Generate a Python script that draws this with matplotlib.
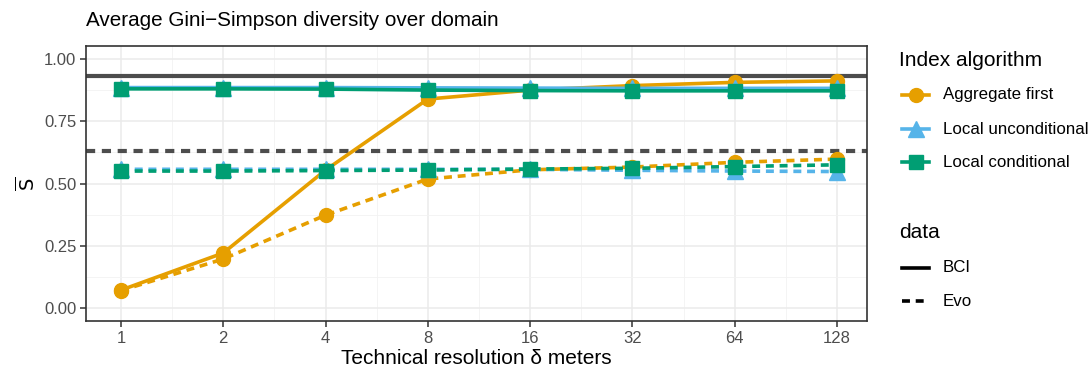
import numpy as np
import matplotlib
matplotlib.use("Agg")
import matplotlib.pyplot as plt
from matplotlib.lines import Line2D
from matplotlib.ticker import FixedLocator, NullFormatter

plt.rcParams['font.family'] = ['Liberation Sans', 'DejaVu Sans']

# technical resolution (meters)
resolution = [1, 2, 4, 8, 16, 32, 64, 128]

# BCI data
bci_aggregate = [0.072, 0.221, 0.554, 0.839, 0.875, 0.893, 0.906, 0.912]
bci_unconditional = [0.885, 0.885, 0.885, 0.884, 0.883, 0.882, 0.882, 0.882]
bci_conditional = [0.880, 0.880, 0.879, 0.875, 0.873, 0.872, 0.872, 0.872]
bci_reference = 0.930

# Evo data
evo_aggregate = [0.070, 0.197, 0.373, 0.518, 0.555, 0.566, 0.585, 0.598]
evo_unconditional = [0.557, 0.557, 0.557, 0.557, 0.557, 0.553, 0.550, 0.548]
evo_conditional = [0.550, 0.550, 0.552, 0.554, 0.558, 0.561, 0.568, 0.575]
evo_reference = 0.630

algorithms = ["Aggregate first", "Local unconditional", "Local conditional"]
datasets = ["BCI", "Evo"]
colors = ["#E69F00", "#56B4E9", "#009E73"]
markers = ["o", "^", "s"]
msizes = [10, 11, 10]
dashed = (0, (2.2, 1.6))

W, H = 1092, 373
fig = plt.figure(figsize=(W / 100, H / 100), dpi=100)
ax = fig.add_axes([86 / W, 1 - 321 / H, 781 / W, 275 / H])

ax.axhline(bci_reference, color="#4D4D4D", lw=3, ls="-", zorder=2)
ax.axhline(evo_reference, color="#4D4D4D", lw=3, ls=dashed, zorder=2)

bci = [bci_aggregate, bci_unconditional, bci_conditional]
evo = [evo_aggregate, evo_unconditional, evo_conditional]
for i in range(3):
    ax.plot(resolution, bci[i], color=colors[i], lw=2.6, ls="-",
            marker=markers[i], ms=msizes[i], zorder=3 + i)
    ax.plot(resolution, evo[i], color=colors[i], lw=2.6, ls=dashed,
            marker=markers[i], ms=msizes[i], zorder=3 + i)

ax.set_xscale("log", base=2)
ax.set_xlim(2 ** -0.342, 2 ** 7.293)
ax.set_ylim(-0.052, 1.052)
ax.xaxis.set_major_locator(FixedLocator(resolution))
ax.set_xticklabels([str(r) for r in resolution])
ax.xaxis.set_minor_locator(FixedLocator([2 ** (k + 0.5) for k in range(-1, 8)]))
ax.xaxis.set_minor_formatter(NullFormatter())
ax.set_yticks([0, 0.25, 0.5, 0.75, 1.0])
ax.set_yticklabels(["0.00", "0.25", "0.50", "0.75", "1.00"])
ax.set_yticks([0.125, 0.375, 0.625, 0.875], minor=True)

ax.grid(which="major", color="#EBEBEB", lw=1.1, zorder=0)
ax.grid(which="minor", color="#F2F2F2", lw=0.6, zorder=0)
ax.set_axisbelow(True)
for s in ax.spines.values():
    s.set_color("#333333")
    s.set_linewidth(1.2)
ax.tick_params(which="major", length=4, color="#333333", labelsize=12,
               labelcolor="#4D4D4D", width=1.1, pad=3)
ax.tick_params(which="minor", length=0)

ax.set_xlabel("Technical resolution δ meters", fontsize=15, labelpad=2)
ax.set_ylabel(r"$\overline{\mathrm{S}}$", fontsize=14, labelpad=4)
fig.text(86 / W, 1 - 20 / H, "Average Gini\u2212Simpson diversity over domain",
         fontsize=14.9, ha="left", va="center")


# legends, laid out by hand in figure pixels
def px(x, y):
    return x / W, 1 - y / H


def legend_block(title, title_y, labels, ys, colors, linestyles, marks):
    fig.text(*px(899, title_y), title, fontsize=15, ha="left", va="center")
    for lab, y, c, ls, mk in zip(labels, ys, colors, linestyles, marks):
        x0, yy = px(902, y)
        x1, _ = px(929, y)
        fig.add_artist(Line2D([x0, x1], [yy, yy], transform=fig.transFigure,
                              lw=2.6, color=c, ls=ls))
        if mk is not None:
            xm, _ = px(915.5, y)
            fig.add_artist(Line2D([xm], [yy], transform=fig.transFigure,
                                  ls="none", marker=mk[0], ms=mk[1], color=c))
        fig.text(*px(943, y), lab, fontsize=12.2, ha="left", va="center")


legend_block("Index algorithm", 60, algorithms, [95, 129, 162], colors,
             ["-"] * 3, list(zip(markers, msizes)))
legend_block("data", 232, datasets, [268, 301], ["black", "black"],
             ["-", dashed], [None, None])

fig.savefig("out.png", dpi=100)
